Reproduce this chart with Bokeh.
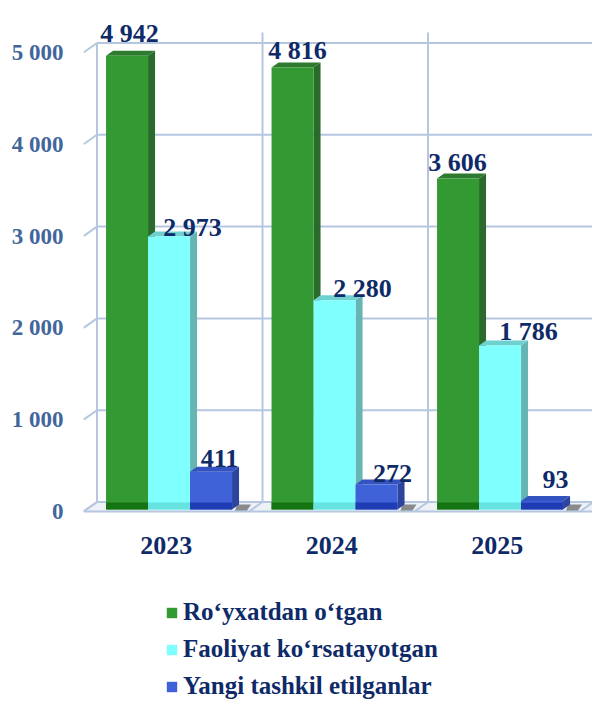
from bokeh.plotting import figure
from bokeh.models import ColumnDataSource, Range1d, FixedTicker, Legend, LegendItem
from bokeh.core.properties import value
from bokeh.embed import file_html
from bokeh.resources import INLINE

# ---------------- data ----------------
years = ["2023", "2024", "2025"]
series_names = ["Ro‘yxatdan o‘tgan", "Faoliyat ko‘rsatayotgan", "Yangi tashkil etilganlar"]
registered = [4942, 4816, 3606]
active = [2973, 2280, 1786]
new_created = [411, 272, 93]
y_ticks = [0, 1000, 2000, 3000, 4000, 5000]
y_tick_labels = ["0", "1 000", "2 000", "3 000", "4 000", "5 000"]

# ---------------- styles ----------------
front_colors = ["#339933", "#80ffff", "#4062d8"]
side_colors = ["#2a6a2c", "#66b4b4", "#2c449e"]
top_colors = ["#2e7a2e", "#6fd0d0", "#3453c0"]
base_colors = ["#147414", "#66e3de", "#1f3cb4"]
# manual label nudges in pixels (x right, y up) per series per year
label_dx = [[2.5, 5, -0.5], [23.5, 28, 28.5], [8.5, 16, 13.5]]
label_dy = [[22, 17, 16], [9, 12, 14], [13, 11, 21.5]]
NAVY = "#0e2a68"
TICK_BLUE = "#41669b"
GRID = "#b5c7e0"
SERIF = "Liberation Serif"

W, H = 592, 702
LEFT = 83
PX_X = 165.5   # pixels per category
PX_Y = 0.0918  # pixels per value unit
Y0 = 511       # pixel row of value 0 (front)

def ux(px):
    return px / PX_X

def uy(px):
    return px / PX_Y

x_end = (W - LEFT) / PX_X
DX, DY = ux(13.5), uy(9.5)        # full floor depth
PDX, PDY = ux(2.8), uy(2.0)       # bar front plane offset
BDX, BDY = ux(7.0), uy(5.0)       # bar depth
BW = ux(42.0)                     # bar width

p = figure(width=W, height=H, x_range=Range1d(0, x_end),
           y_range=Range1d((Y0 - H) / PX_Y, Y0 / PX_Y),
           output_backend="svg", toolbar_location=None,
           x_axis_location=None, y_axis_location="left",
           min_border_left=LEFT, min_border_right=0, min_border_top=0,
           min_border_bottom=0, outline_line_color=None)
p.grid.visible = False
p.background_fill_color = "white"
p.border_fill_color = "white"

ax = p.yaxis[0]
ax.ticker = FixedTicker(ticks=y_ticks)
ax.major_label_overrides = {t: l for t, l in zip(y_ticks, y_tick_labels)}
ax.axis_line_color = None
ax.major_tick_line_color = None
ax.minor_tick_line_color = None
ax.major_tick_out = 0
ax.major_tick_in = 0
ax.major_label_standoff = 20
ax.major_label_text_font = SERIF
ax.major_label_text_font_style = "bold"
ax.major_label_text_font_size = "23px"
ax.major_label_text_color = TICK_BLUE

# floor
p.patch([0, x_end, x_end + DX, DX], [0, 0, DY, DY], fill_color="#eef2f7", line_color=None)

# back wall horizontal gridlines
p.segment(x0=[DX] * len(y_ticks), y0=[t + DY for t in y_ticks],
          x1=[x_end] * len(y_ticks), y1=[t + DY for t in y_ticks],
          line_color=GRID, line_width=2)
# slanted ticks from front axis to back wall
p.segment(x0=[0] * len(y_ticks), y0=y_ticks, x1=[DX] * len(y_ticks),
          y1=[t + DY for t in y_ticks], line_color=GRID, line_width=2)
# vertical wall lines
n = len(years)
top_inner = (Y0 - 32) / PX_Y
p.segment(x0=[i + DX for i in range(n + 1)], y0=[DY] * (n + 1),
          x1=[i + DX for i in range(n + 1)],
          y1=[y_ticks[-1] + DY] + [top_inner] * n,
          line_color=GRID, line_width=2)
# floor category dividers and front edge
p.segment(x0=list(range(n + 1)), y0=[0] * (n + 1),
          x1=[i + DX for i in range(n + 1)], y1=[DY] * (n + 1),
          line_color=GRID, line_width=2)
p.segment(x0=[0], y0=[0], x1=[x_end], y1=[0], line_color=GRID, line_width=2)

all_vals = [registered, active, new_created]
centers = [i + 0.5 + PDX for i in range(n)]

# shadows right of the last bar
last_right = [c + 1.5 * BW + BDX for c in centers]
p.patches(xs=[[r - ux(2), r + ux(12), r + ux(8), r - ux(4)] for r in last_right],
          ys=[[PDY + BDY, PDY + BDY, PDY - uy(1), PDY - uy(1)] for _ in last_right],
          fill_color="#444444", fill_alpha=0.6, line_color=None)

legend_renderers = []
for j, vals in enumerate(all_vals):
    xc = [c + (j - 1) * BW for c in centers]
    left = [x - BW / 2 for x in xc]
    right = [x + BW / 2 for x in xc]
    tops = [v + PDY for v in vals]
    # side face
    p.patches(xs=[[r, r + BDX, r + BDX, r] for r in right],
              ys=[[PDY, PDY + BDY, t + BDY, t] for t in tops],
              fill_color=side_colors[j], line_color=None)
    # top face
    p.patches(xs=[[l, l + BDX, r + BDX, r] for l, r in zip(left, right)],
              ys=[[t, t + BDY, t + BDY, t] for t in tops],
              fill_color=top_colors[j], line_color=None)
    # front face
    src = ColumnDataSource(dict(left=left, right=right, bottom=[PDY] * n, top=tops))
    r = p.quad(left="left", right="right", bottom="bottom", top="top", source=src,
               fill_color=front_colors[j], line_color=None)
    legend_renderers.append(r)
    # reflection strip at the base
    p.quad(left=left, right=right, bottom=[PDY] * n, top=[PDY + uy(7)] * n,
           fill_color=base_colors[j], line_color=None)
    # value labels
    lab = [f"{v:,}".replace(",", " ") for v in vals]
    p.text(x=xc, y=tops, text=lab, x_offset=label_dx[j],
           y_offset=[-d for d in label_dy[j]],
           text_align="center", text_baseline="alphabetic",
           text_font=value(SERIF), text_font_style="bold",
           text_font_size="26px", text_color=NAVY)

# year labels
p.text(x=[i + 0.5 for i in range(n)], y=[(Y0 - 545) / PX_Y] * n, text=years,
       text_align="center", text_baseline="middle", text_font=value(SERIF),
       text_font_style="bold", text_font_size="26px", text_color=NAVY)

legend = Legend(items=[LegendItem(label=s, renderers=[r]) for s, r in zip(series_names, legend_renderers)],
                location=(165 - LEFT, 2), orientation="vertical",
                background_fill_alpha=0, border_line_color=None,
                glyph_width=13, glyph_height=13, label_standoff=5,
                padding=0, margin=0, spacing=9, label_height=28,
                label_text_font=SERIF, label_text_font_style="bold",
                label_text_font_size="25px", label_text_color=NAVY)
p.add_layout(legend)

open("out.html", "w").write(file_html(p, INLINE))
